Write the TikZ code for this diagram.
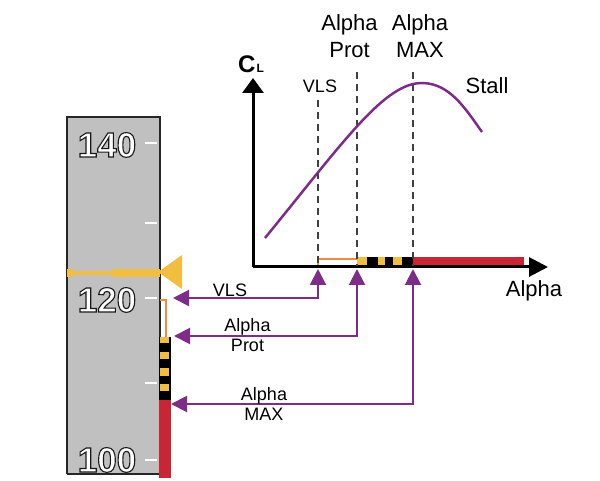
\documentclass[tikz,border=0pt]{standalone}
\usepackage{fontspec}
\setmainfont{Liberation Sans}
\usetikzlibrary{arrows.meta}
\definecolor{tapegray}{RGB}{192,192,192}
\definecolor{ayellow}{RGB}{242,190,66}
\definecolor{ared}{RGB}{200,38,52}
\definecolor{aorange}{RGB}{240,140,60}
\definecolor{apurple}{RGB}{125,45,135}
\newcommand{\outlinenum}[1]{\textcolor{white}{\special{pdf:literal direct 0.1 0.1 0.1 RG 1.1 w 2 Tr}#1\special{pdf:literal direct 0 Tr}}}
\tikzset{
  biglbl/.style={font=\fontsize{22}{27}\selectfont, align=center, inner sep=0pt},
  smlbl/.style={font=\fontsize{18}{20}\selectfont, align=center, inner sep=0pt},
  tapenum/.style={font=\fontsize{35}{35}\selectfont\bfseries, inner sep=0pt},
  tick/.style={white, line width=2pt},
  parr/.style={apurple, line width=2pt, {Triangle[length=16pt,width=16pt]}-{Triangle[length=16pt,width=16pt]}},
  xaxisln/.style={black, line width=3pt, -{Triangle[length=19pt,width=19pt]}},
  yaxisln/.style={black, line width=3pt, -{Triangle[length=15pt,width=21pt]}},
  dashln/.style={black!75, line width=1.8pt, dash pattern=on 7pt off 5pt},
  curve/.style={apurple, line width=2.5pt},
  orng/.style={aorange, line width=1.8pt}
}
\begin{document}
\begin{tikzpicture}[x=1pt,y=-1pt]
\useasboundingbox (0,0) rectangle (600,481);
% ---- speed tape ----
\fill[tapegray] (67,117) rectangle (160,474);
\draw[black!85, line width=1.2pt] (67,474) -- (67,117) -- (160,117) -- (160,474);
\draw[black!85, line width=1.2pt] (67,474) -- (160,474);
\foreach \yy in {143,223,298,383,460} \draw[tick] (145,\yy) -- (157,\yy);
\foreach \n/\yy in {140/145,120/300,100/460}{
  \node[tapenum] (n\n) at (107,\yy) {\outlinenum{\n}};
}
% speed pointer
\fill[ayellow] (67,271) rectangle (112,275);
\fill[ayellow] (67,269) rectangle (73,277);
\fill[ayellow] (112,269) rectangle (160,277);
\fill[ayellow] (158,272) -- (182,255) -- (182,289) -- cycle;
% orange line on tape
\draw[orng] (160,300) -| (166,337);
% amber/black strip on tape
\fill[black] (159,337) rectangle (171,400);
\foreach \a/\b in {337/343,352/359,368/376,384/391} \fill[ayellow] (160,\a) rectangle (169,\b);
\fill[ared] (159,400) rectangle (171,478);
% ---- CL graph ----
\coordinate (O) at (253,267);
\coordinate (ytip) at (253,78);
\coordinate (xtip) at (548,267);
% strips on axis
\draw[orng] (318,267) |- (357,259);
\fill[black] (357,257) rectangle (413,266);
\foreach \a/\b in {357/367,378/385,393/402} \fill[ayellow] (\a,257) rectangle (\b,266);
\fill[ared] (413,257) rectangle (524,266);
\draw[xaxisln] (O) -- (xtip);
\draw[yaxisln] (O) -- (ytip);
% dashed lines
\draw[dashln] (318,100) -- (318,266);
\draw[dashln] (357,72) -- (357,266);
\draw[dashln] (413,72) -- (413,266);
% lift curve
\draw[curve] (265,238) .. controls (345,140) and (385,82) .. (423,83) .. controls (450,84) and (465,108) .. (482,132);
% labels
\node[inner sep=0pt, font=\fontsize{24}{24}\selectfont\bfseries] (cl) at (251,64.5) {C\kern1pt{\fontsize{12}{12}\selectfont L}};
\node[smlbl] (tvls) at (320,86.5) {VLS};
\node[biglbl] (tprot) at (349.5,36.5) {Alpha\\Prot};
\node[biglbl] (tmax) at (420,36.5) {Alpha\\MAX};
\node[biglbl] (tstall) at (487,86) {Stall};
\node[biglbl] (talpha) at (534,291) {Alpha};
% ---- connecting arrows ----
\coordinate (vlsT) at (173,298);
\coordinate (vlsA) at (318,269);
\coordinate (protT) at (174,336);
\coordinate (protA) at (357,269);
\coordinate (maxT) at (171,404);
\coordinate (maxA) at (413,269);
\draw[parr] (vlsT) -| (vlsA);
\draw[parr] (protT) -| (protA);
\draw[parr] (maxT) -| (maxA);
\node[smlbl] (lvls) at (230,290.5) {VLS};
\node[smlbl] (lprot) at (247.5,335.5) {Alpha\\Prot};
\node[smlbl] (lmax) at (264,403.5) {Alpha\\MAX};
\end{tikzpicture}
\end{document}
